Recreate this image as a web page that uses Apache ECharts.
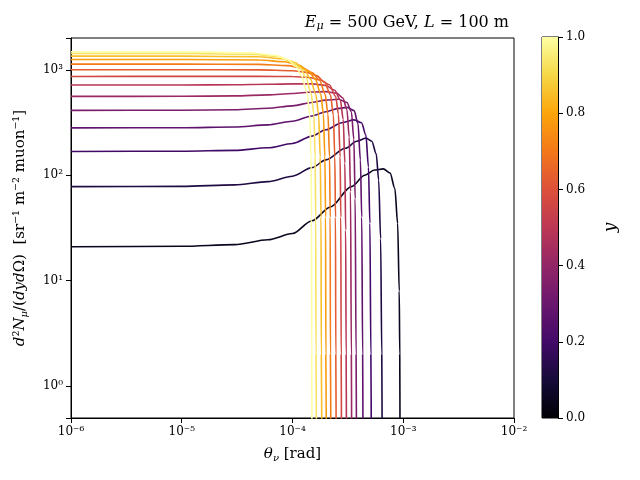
<!DOCTYPE html>
<html><head><meta charset="utf-8">
<script src="https://cdn.jsdelivr.net/npm/echarts@6/dist/echarts.min.js"></script>
<style>html,body{margin:0;padding:0;background:#fff}#c{width:640px;height:480px}</style>
</head><body><div id="c"></div>
<script>
const yValues = [0.05,0.12,0.20,0.27,0.34,0.42,0.49,0.56,0.63,0.71,0.78,0.85,0.93,1.0];
const c1 = [[1e-6,21],[1e-5,21.2],[3e-5,22],[6e-5,24.5],[1e-4,28],[1.5e-4,37],[2.2e-4,50],[3.4e-4,78],[4.5e-4,100],[5.5e-4,112],[6.6e-4,115],[7.6e-4,105],[8.4e-4,75],[8.9e-4,35],[9.2e-4,8],[9.3e-4,2],[9.35e-4,0.3]];
const c2 = [[1e-6,78],[1e-5,78.5],[3e-5,81],[6e-5,87],[1e-4,98],[1.5e-4,118],[2e-4,140],[3e-4,180],[3.8e-4,210],[4.6e-4,225],[5.2e-4,210],[5.7e-4,160],[6e-4,90],[6.25e-4,25],[6.4e-4,2],[6.45e-4,0.3]];
const c3 = [[1e-6,168],[1e-5,169],[3e-5,172],[6e-5,182],[1e-4,200],[1.5e-4,235],[2e-4,270],[2.8e-4,315],[3.6e-4,335],[4.2e-4,315],[4.6e-4,240],[4.85e-4,120],[5e-4,35],[5.1e-4,2],[5.15e-4,0.3]];
const c4 = [[1e-6,281],[1e-5,282],[3e-5,287],[6e-5,300],[1e-4,325],[1.5e-4,365],[2e-4,400],[2.6e-4,430],[3.1e-4,440],[3.6e-4,410],[3.9e-4,310],[4.1e-4,140],[4.22e-4,40],[4.3e-4,2],[4.33e-4,0.3]];
const c5 = [[1e-6,412],[1e-5,413],[3e-5,418],[6e-5,432],[1e-4,455],[1.5e-4,490],[2e-4,515],[2.6e-4,525],[3.1e-4,490],[3.4e-4,400],[3.58e-4,220],[3.68e-4,60],[3.75e-4,2],[3.78e-4,0.3]];
const c6 = [[1e-6,559],[1e-5,560],[3e-5,565],[6e-5,578],[1e-4,595],[1.5e-4,615],[2e-4,620],[2.5e-4,600],[2.85e-4,540],[3.1e-4,420],[3.25e-4,230],[3.34e-4,70],[3.4e-4,2],[3.42e-4,0.3]];
const c7 = [[1e-6,717],[1e-5,718],[3e-5,721],[6e-5,728],[1e-4,735],[1.5e-4,735],[2e-4,710],[2.4e-4,640],[2.7e-4,520],[2.87e-4,340],[2.97e-4,130],[3.02e-4,30],[3.05e-4,2],[3.07e-4,0.3]];
const c8 = [[1e-6,864],[1e-5,865],[5e-5,867],[1e-4,862],[1.4e-4,845],[1.8e-4,800],[2.15e-4,720],[2.45e-4,560],[2.6e-4,380],[2.69e-4,150],[2.73e-4,40],[2.75e-4,2],[2.77e-4,0.3]];
const c9 = [[1e-6,1000],[1e-5,1000],[5e-5,998],[1e-4,980],[1.35e-4,945],[1.65e-4,880],[1.95e-4,760],[2.2e-4,580],[2.34e-4,370],[2.41e-4,150],[2.445e-4,40],[2.46e-4,2],[2.48e-4,0.3]];
const c10 = [[1e-6,1132],[1e-5,1131],[5e-5,1125],[9e-5,1095],[1.25e-4,1030],[1.5e-4,940],[1.75e-4,800],[1.97e-4,590],[2.09e-4,380],[2.16e-4,150],[2.19e-4,40],[2.2e-4,2],[2.22e-4,0.3]];
const c11 = [[1e-6,1251],[1e-5,1250],[5e-5,1238],[8.5e-5,1190],[1.15e-4,1100],[1.4e-4,970],[1.6e-4,820],[1.8e-4,590],[1.9e-4,380],[1.96e-4,150],[1.99e-4,40],[2e-4,2],[2.02e-4,0.3]];
const c12 = [[1e-6,1348],[1e-5,1346],[5e-5,1328],[8e-5,1270],[1.05e-4,1170],[1.28e-4,1000],[1.45e-4,820],[1.62e-4,590],[1.72e-4,380],[1.78e-4,150],[1.81e-4,40],[1.82e-4,2],[1.84e-4,0.3]];
const c13 = [[1e-6,1427],[1e-5,1424],[4.5e-5,1400],[7.5e-5,1330],[9.8e-5,1210],[1.17e-4,1040],[1.32e-4,850],[1.47e-4,600],[1.56e-4,380],[1.6e-4,150],[1.62e-4,40],[1.63e-4,2],[1.645e-4,0.3]];
const c14 = [[1e-6,1480],[1e-5,1477],[4e-5,1450],[7e-5,1370],[9e-5,1250],[1.07e-4,1080],[1.21e-4,870],[1.35e-4,610],[1.43e-4,380],[1.47e-4,150],[1.485e-4,40],[1.49e-4,2],[1.5e-4,0.3]];
const curves = [c1,c2,c3,c4,c5,c6,c7,c8,c9,c10,c11,c12,c13,c14];
const colorbarTicks = [0,0.2,0.4,0.6,0.8,1.0];

const inferno = ['#000004','#160b39','#420a68','#6a176e','#932667','#bc3754','#dd513a','#f37819','#fca50a','#f6d746','#fcffa4'];
function hex(h){return [1,3,5].map(i=>parseInt(h.substr(i,2),16));}
function cmap(t){t=Math.max(0,Math.min(1,t));const s=t*10,i=Math.min(9,Math.floor(s)),f=s-i;
 const a=hex(inferno[i]),b=hex(inferno[i+1]);return 'rgb('+a.map((v,k)=>Math.round(v+(b[k]-v)*f)).join(',')+')';}
const sup={'-':'⁻','0':'⁰','1':'¹','2':'²','3':'³','4':'⁴','5':'⁵','6':'⁶','7':'⁷','8':'⁸','9':'⁹'};
function pow10(v){const e=Math.round(Math.log10(v));return '10'+String(e).split('').map(c=>sup[c]).join('');}
const F='DejaVu Serif';
const it={fontStyle:'italic',fontFamily:F,fontSize:15,color:'#000'};
const sb={fontStyle:'italic',fontFamily:F,fontSize:10,color:'#000',padding:[7,0,0,0]};
const chart=echarts.init(document.getElementById('c'));
const series=curves.map((d,i)=>({type:'line',data:d,showSymbol:false,smooth:0.3,smoothMonotone:'x',clip:true,
 xAxisIndex:0,yAxisIndex:0,lineStyle:{width:1.6,color:cmap(yValues[i])},z:2}));
series.push({type:'bar',xAxisIndex:1,yAxisIndex:1,data:[1],barWidth:'100%',silent:true,
 itemStyle:{color:new echarts.graphic.LinearGradient(0,1,0,0,inferno.map((c,i)=>({offset:i/10,color:c})))}});
chart.setOption({
 animation:false,
 title:{text:'{i|E}{s|μ} = 500 GeV, {i|L} = 100 m',right:126,top:8,
  textStyle:{fontFamily:F,fontWeight:'normal',fontSize:16,color:'#000',
   rich:{i:{fontStyle:'italic',fontFamily:F,fontSize:16},s:{fontStyle:'italic',fontFamily:F,fontSize:11,padding:[8,0,0,0]}}}},
 grid:[{left:71,right:126,top:38,bottom:62,show:true,borderColor:'#000',borderWidth:1},
       {left:542,width:16,top:37,bottom:62,show:true,borderColor:'#000',borderWidth:1}],
 xAxis:[{type:'log',min:1e-6,max:1e-2,logBase:10,name:'{i|θ}{s|ν} [rad]',nameLocation:'middle',nameGap:28,
   nameTextStyle:{fontFamily:F,fontSize:15,color:'#000',rich:{i:it,s:sb}},
   axisLine:{lineStyle:{color:'#000'}},axisTick:{lineStyle:{color:'#000'}},splitLine:{show:false},
   axisLabel:{formatter:pow10,fontFamily:F,fontSize:12,color:'#000'}},
  {type:'category',gridIndex:1,data:[''],show:false}],
 yAxis:[{type:'log',min:0.5,max:2000,logBase:10,name:'{i|d}²{i|N}{s|μ}/({i|dyd}Ω)  [sr⁻¹ m⁻² muon⁻¹]',nameLocation:'middle',nameGap:42,
   nameTextStyle:{fontFamily:F,fontSize:15,color:'#000',rich:{i:it,s:sb}},
   axisLine:{lineStyle:{color:'#000'}},axisTick:{lineStyle:{color:'#000'}},splitLine:{show:false},
   axisLabel:{formatter:v=>{const e=Math.log10(v);return Math.abs(e-Math.round(e))<1e-6?pow10(v):'';},fontFamily:F,fontSize:12,color:'#000'}},
  {type:'value',gridIndex:1,min:0,max:1,interval:0.2,position:'right',name:'y',nameLocation:'middle',nameGap:44,nameRotate:90,
   nameTextStyle:{fontFamily:F,fontSize:17,fontStyle:'italic',color:'#000'},
   axisLine:{show:true,lineStyle:{color:'#000'}},axisTick:{show:true,lineStyle:{color:'#000'}},splitLine:{show:false},
   axisLabel:{formatter:v=>v.toFixed(1),fontFamily:F,fontSize:12,color:'#000'}}],
 series:series
});
</script></body></html>
